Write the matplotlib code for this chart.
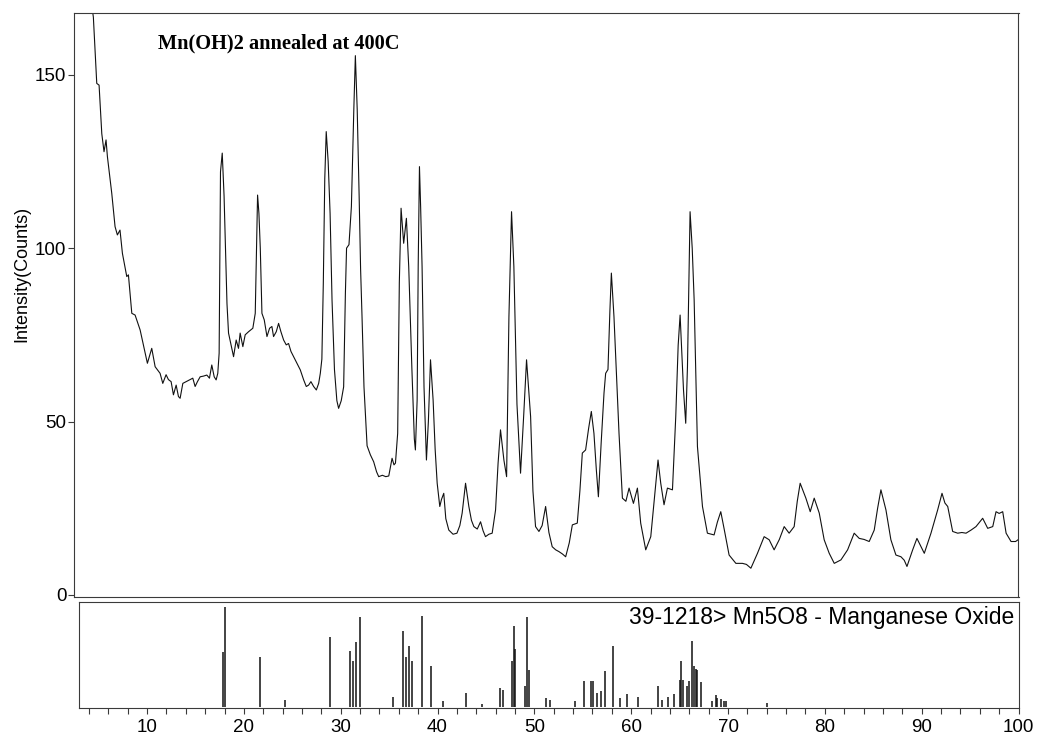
import matplotlib
matplotlib.use("Agg")
import matplotlib.pyplot as plt
from matplotlib.ticker import MultipleLocator, FixedLocator

# Measured diffraction pattern: 2-theta (deg) and intensity (counts)
two_theta = [
    2.5, 3.2, 3.8, 4.45, 4.8, 5.04, 5.32, 5.55, 5.76, 5.9,
    6.35, 6.69, 6.93, 7.2, 7.45, 7.9, 8.07, 8.42, 8.76, 9.28,
    9.62, 10.03, 10.48, 10.83, 11.34, 11.62, 11.96, 12.2, 12.48, 12.72,
    13.0, 13.24, 13.41, 13.69, 14.03, 14.38, 14.72, 14.96, 15.2, 15.48,
    15.83, 16.17, 16.44, 16.68, 16.93, 17.13, 17.3, 17.44, 17.58, 17.76,
    17.95, 18.1, 18.25, 18.41, 18.93, 19.2, 19.44, 19.61, 19.89, 20.13,
    20.48, 20.92, 21.17, 21.3, 21.41, 21.55, 21.69, 21.86, 22.1, 22.38,
    22.65, 22.89, 23.06, 23.34, 23.58, 23.82, 24.1, 24.37, 24.61, 24.86,
    25.13, 25.48, 25.82, 26.17, 26.44, 26.68, 26.92, 27.2, 27.48, 27.72,
    27.89, 28.05, 28.2, 28.35, 28.5, 28.7, 28.9, 29.1, 29.35, 29.6,
    29.78, 30.05, 30.3, 30.48, 30.6, 30.85, 31.1, 31.35, 31.51, 31.7,
    31.9, 32.05, 32.2, 32.4, 32.72, 33.06, 33.4, 33.7, 33.92, 34.3,
    34.65, 34.96, 35.3, 35.5, 35.65, 35.88, 36.05, 36.23, 36.5, 36.78,
    37.02, 37.35, 37.6, 37.71, 37.89, 38.0, 38.13, 38.25, 38.4, 38.6,
    38.85, 39.05, 39.27, 39.54, 39.75, 39.96, 40.23, 40.4, 40.64, 40.85,
    41.16, 41.6, 42.0, 42.3, 42.54, 42.89, 43.23, 43.5, 43.75, 44.1,
    44.44, 44.7, 44.95, 45.3, 45.64, 45.99, 46.25, 46.5, 46.85, 47.13,
    47.37, 47.64, 47.88, 48.2, 48.57, 48.9, 49.19, 49.61, 49.85, 50.12,
    50.47, 50.8, 51.16, 51.5, 51.84, 52.2, 52.53, 52.9, 53.23, 53.6,
    53.92, 54.43, 54.7, 54.95, 55.29, 55.6, 55.88, 56.15, 56.4, 56.61,
    56.9, 57.19, 57.36, 57.6, 57.8, 57.95, 58.22, 58.5, 58.74, 59.09,
    59.45, 59.78, 60.23, 60.64, 60.98, 61.5, 62.02, 62.4, 62.77, 63.05,
    63.39, 63.74, 64.26, 64.6, 64.85, 65.05, 65.4, 65.63, 65.81, 66.08,
    66.3, 66.5, 66.84, 67.36, 67.87, 68.56, 68.9, 69.25, 69.6, 70.11,
    70.81, 71.49, 71.9, 72.36, 73.04, 73.73, 74.25, 74.76, 75.3, 75.8,
    76.31, 76.83, 77.15, 77.45, 78.04, 78.49, 78.9, 79.42, 79.93, 80.45,
    80.97, 81.66, 82.35, 83.03, 83.55, 84.05, 84.58, 85.1, 85.45, 85.79,
    86.31, 86.82, 87.34, 87.86, 88.2, 88.48, 89.07, 89.51, 89.93, 90.27,
    90.96, 91.65, 92.1, 92.4, 92.69, 93.2, 93.72, 94.15, 94.58, 95.1,
    95.61, 96.3, 96.82, 97.34, 97.68, 98.0, 98.37, 98.72, 99.23, 99.7,
    100.0,
]
counts = [
    215, 195, 180, 166.6, 147.5, 147, 133, 127.8, 131.2, 126.4,
    115.8, 106.2, 103.8, 105.2, 98.5, 91.8, 92.3, 81.2, 80.7, 76.4,
    72.1, 66.8, 71.1, 65.8, 63.9, 61.0, 63.5, 62.1, 61.5, 57.7,
    60.5, 57.2, 56.7, 61.0, 61.5, 62.0, 62.5, 60.1, 61.5, 62.9,
    63.1, 63.4, 62.5, 66.3, 62.9, 62.0, 63.9, 69.7, 122, 127.4,
    115, 100, 84, 75.5, 68.7, 73.5, 71.1, 75.5, 71.6, 75.0,
    75.9, 76.9, 81.2, 100, 115.3, 110, 100, 81.2, 79.3, 74.5,
    76.9, 77.4, 74.5, 75.9, 78.3, 75.9, 73.5, 72.1, 72.5, 70.2,
    68.7, 66.8, 64.9, 62.0, 60.1, 60.5, 61.5, 60.1, 59.1, 61.0,
    63.9, 68, 90, 120, 133.6, 125, 110, 85, 65, 56,
    53.8, 56, 60, 87, 100, 101, 112, 140, 155.5, 140,
    115, 94, 80, 60, 43, 40.4, 38.4, 35.5, 34.1, 34.5,
    34.1, 34.3, 39.4, 37.5, 38.0, 46.6, 90, 111.5, 101.4, 108.6,
    94.7, 65, 45, 41.8, 56.2, 95, 123.5, 112, 94.7, 60,
    38.9, 50, 67.8, 56.2, 42, 32.2, 25.5, 27.5, 29.3, 22,
    18.7, 17.5, 17.8, 20, 23.6, 32.2, 25.5, 21.5, 19.7, 19,
    21.1, 18.5, 16.8, 17.5, 17.8, 24.5, 38, 47.6, 38.9, 34.1,
    80.2, 110.5, 94.7, 55, 35.1, 52, 67.8, 51.4, 30, 19.7,
    18.3, 20, 25.5, 18, 13.9, 13, 12.5, 11.8, 11.0, 15,
    20.2, 20.7, 30, 40.9, 41.8, 48, 52.9, 46.6, 36, 28.3,
    44, 58.2, 63.9, 65, 82, 92.8, 80.2, 62, 46.6, 27.9,
    27, 30.8, 26.4, 30.8, 20.7, 13.0, 16.8, 28, 38.9, 32.2,
    26.0, 30.8, 30.3, 51.4, 72, 80.7, 59.1, 49.5, 65.8, 110.5,
    100, 85.1, 42.8, 25.5, 17.8, 17.3, 21, 24.0, 19, 11.5,
    9.1, 9.1, 8.8, 7.7, 12.0, 16.8, 15.9, 13.0, 16, 19.7,
    17.8, 19.7, 27, 32.2, 27.9, 24.0, 27.9, 23.6, 15.9, 12.0,
    9.1, 10.1, 13.0, 17.8, 16.3, 16, 15.4, 18.7, 25, 30.3,
    24.5, 15.9, 11.5, 11.0, 10, 8.2, 13.0, 16.3, 13.9, 12.0,
    17.8, 24.5, 29.3, 26.5, 25.5, 18.3, 17.8, 18, 17.8, 18.7,
    19.7, 22.1, 19.2, 19.7, 24.0, 23.5, 24.0, 17.8, 15.4, 15.4,
    16.0,
]

# Reference card 39-1218 (Mn5O8): line positions and relative intensities
ref_two_theta = [
    17.89, 18.07, 21.69, 24.2, 28.85, 30.92, 31.27, 31.61, 31.96, 35.37,
    36.4, 36.75, 37.09, 37.37, 38.4, 39.37, 40.58, 42.99, 44.62, 46.5,
    46.74, 47.7, 47.88, 47.98, 48.99, 49.26, 49.43, 51.16, 51.57, 54.16,
    55.12, 55.88, 56.09, 56.5, 56.92, 57.29, 58.16, 58.84, 59.53, 60.74,
    62.81, 63.15, 63.82, 64.43, 65.05, 65.17, 65.36, 65.81, 65.98, 66.33,
    66.5, 66.67, 66.84, 67.19, 68.38, 68.74, 68.91, 69.25, 69.62, 69.82,
    73.98,
]
ref_intensity = [
    55, 100, 50, 7, 70, 56, 46, 65, 90, 10,
    76, 50, 61, 46, 91, 41, 6, 14, 3, 19,
    17, 46, 81, 58, 21, 90, 37, 9, 7, 6,
    26, 26, 26, 14, 16, 36, 61, 9, 13, 10,
    21, 7, 10, 13, 27, 46, 27, 21, 26, 66,
    41, 38, 37, 25, 6, 12, 9, 8, 6, 6,
    4,
]

sample_title = "Mn(OH)2 annealed at 400C"
card_label = "39-1218> Mn5O8 - Manganese Oxide"
y_ticks = [0, 50, 100, 150]
x_ticks = [10, 20, 30, 40, 50, 60, 70, 80, 90, 100]

W, H = 1039, 738
fig = plt.figure(figsize=(W / 100, H / 100), dpi=100)
sans = ["Liberation Sans", "DejaVu Sans"]
serif = ["Liberation Serif", "DejaVu Serif"]
line_col = "#111111"
frame_col = "#3a3a3a"


def px_box(left, top, right, bottom):
    return [left / W, 1 - bottom / H, (right - left) / W, (bottom - top) / H]


# Upper panel: measured pattern
ax = fig.add_axes(px_box(74, 13, 1018.5, 597))
ax.plot(two_theta, counts, color=line_col, lw=0.8)
ax.set_xlim(2.45, 100)
ax.set_ylim(-0.6, 167.8)
ax.yaxis.set_major_locator(FixedLocator(y_ticks))
ax.set_yticklabels([str(v) for v in y_ticks], family=sans, fontsize=13.5)
ax.tick_params(axis="y", direction="out", length=4, width=0.8, pad=1.5,
               colors=frame_col, labelcolor="black")
ax.tick_params(axis="x", bottom=False, labelbottom=False)
for s in ax.spines.values():
    s.set_color(frame_col)
    s.set_linewidth(0.8)

fig.text(158 / W, 1 - 48 / H, sample_title, family=serif, fontweight="bold",
         fontsize=14.7, ha="left", va="baseline")
fig.text(22 / W, 1 - 274 / H, "Intensity(Counts)", family=sans, fontsize=13,
         rotation=90, ha="center", va="center")

# Lower panel: reference stick pattern
bx = fig.add_axes(px_box(78.5, 602, 1018.5, 707.5))
bx.vlines(ref_two_theta, 0, ref_intensity, color=line_col, lw=1.1)
bx.set_xlim(2.92, 100)
bx.set_ylim(-0.8, 104.7)
bx.set_yticks([])
bx.xaxis.set_major_locator(FixedLocator(x_ticks))
bx.xaxis.set_minor_locator(MultipleLocator(2))
bx.set_xticklabels([str(v) for v in x_ticks], family=sans, fontsize=13.5)
bx.tick_params(axis="x", which="both", direction="out", length=4, width=0.8,
               pad=4, colors=frame_col, labelcolor="black")
for s in bx.spines.values():
    s.set_color(frame_col)
    s.set_linewidth(0.8)
bx.text(0.995, 0.96, card_label, transform=bx.transAxes, family=sans,
        fontsize=16.5, ha="right", va="top")

fig.savefig("out.png", dpi=100)
